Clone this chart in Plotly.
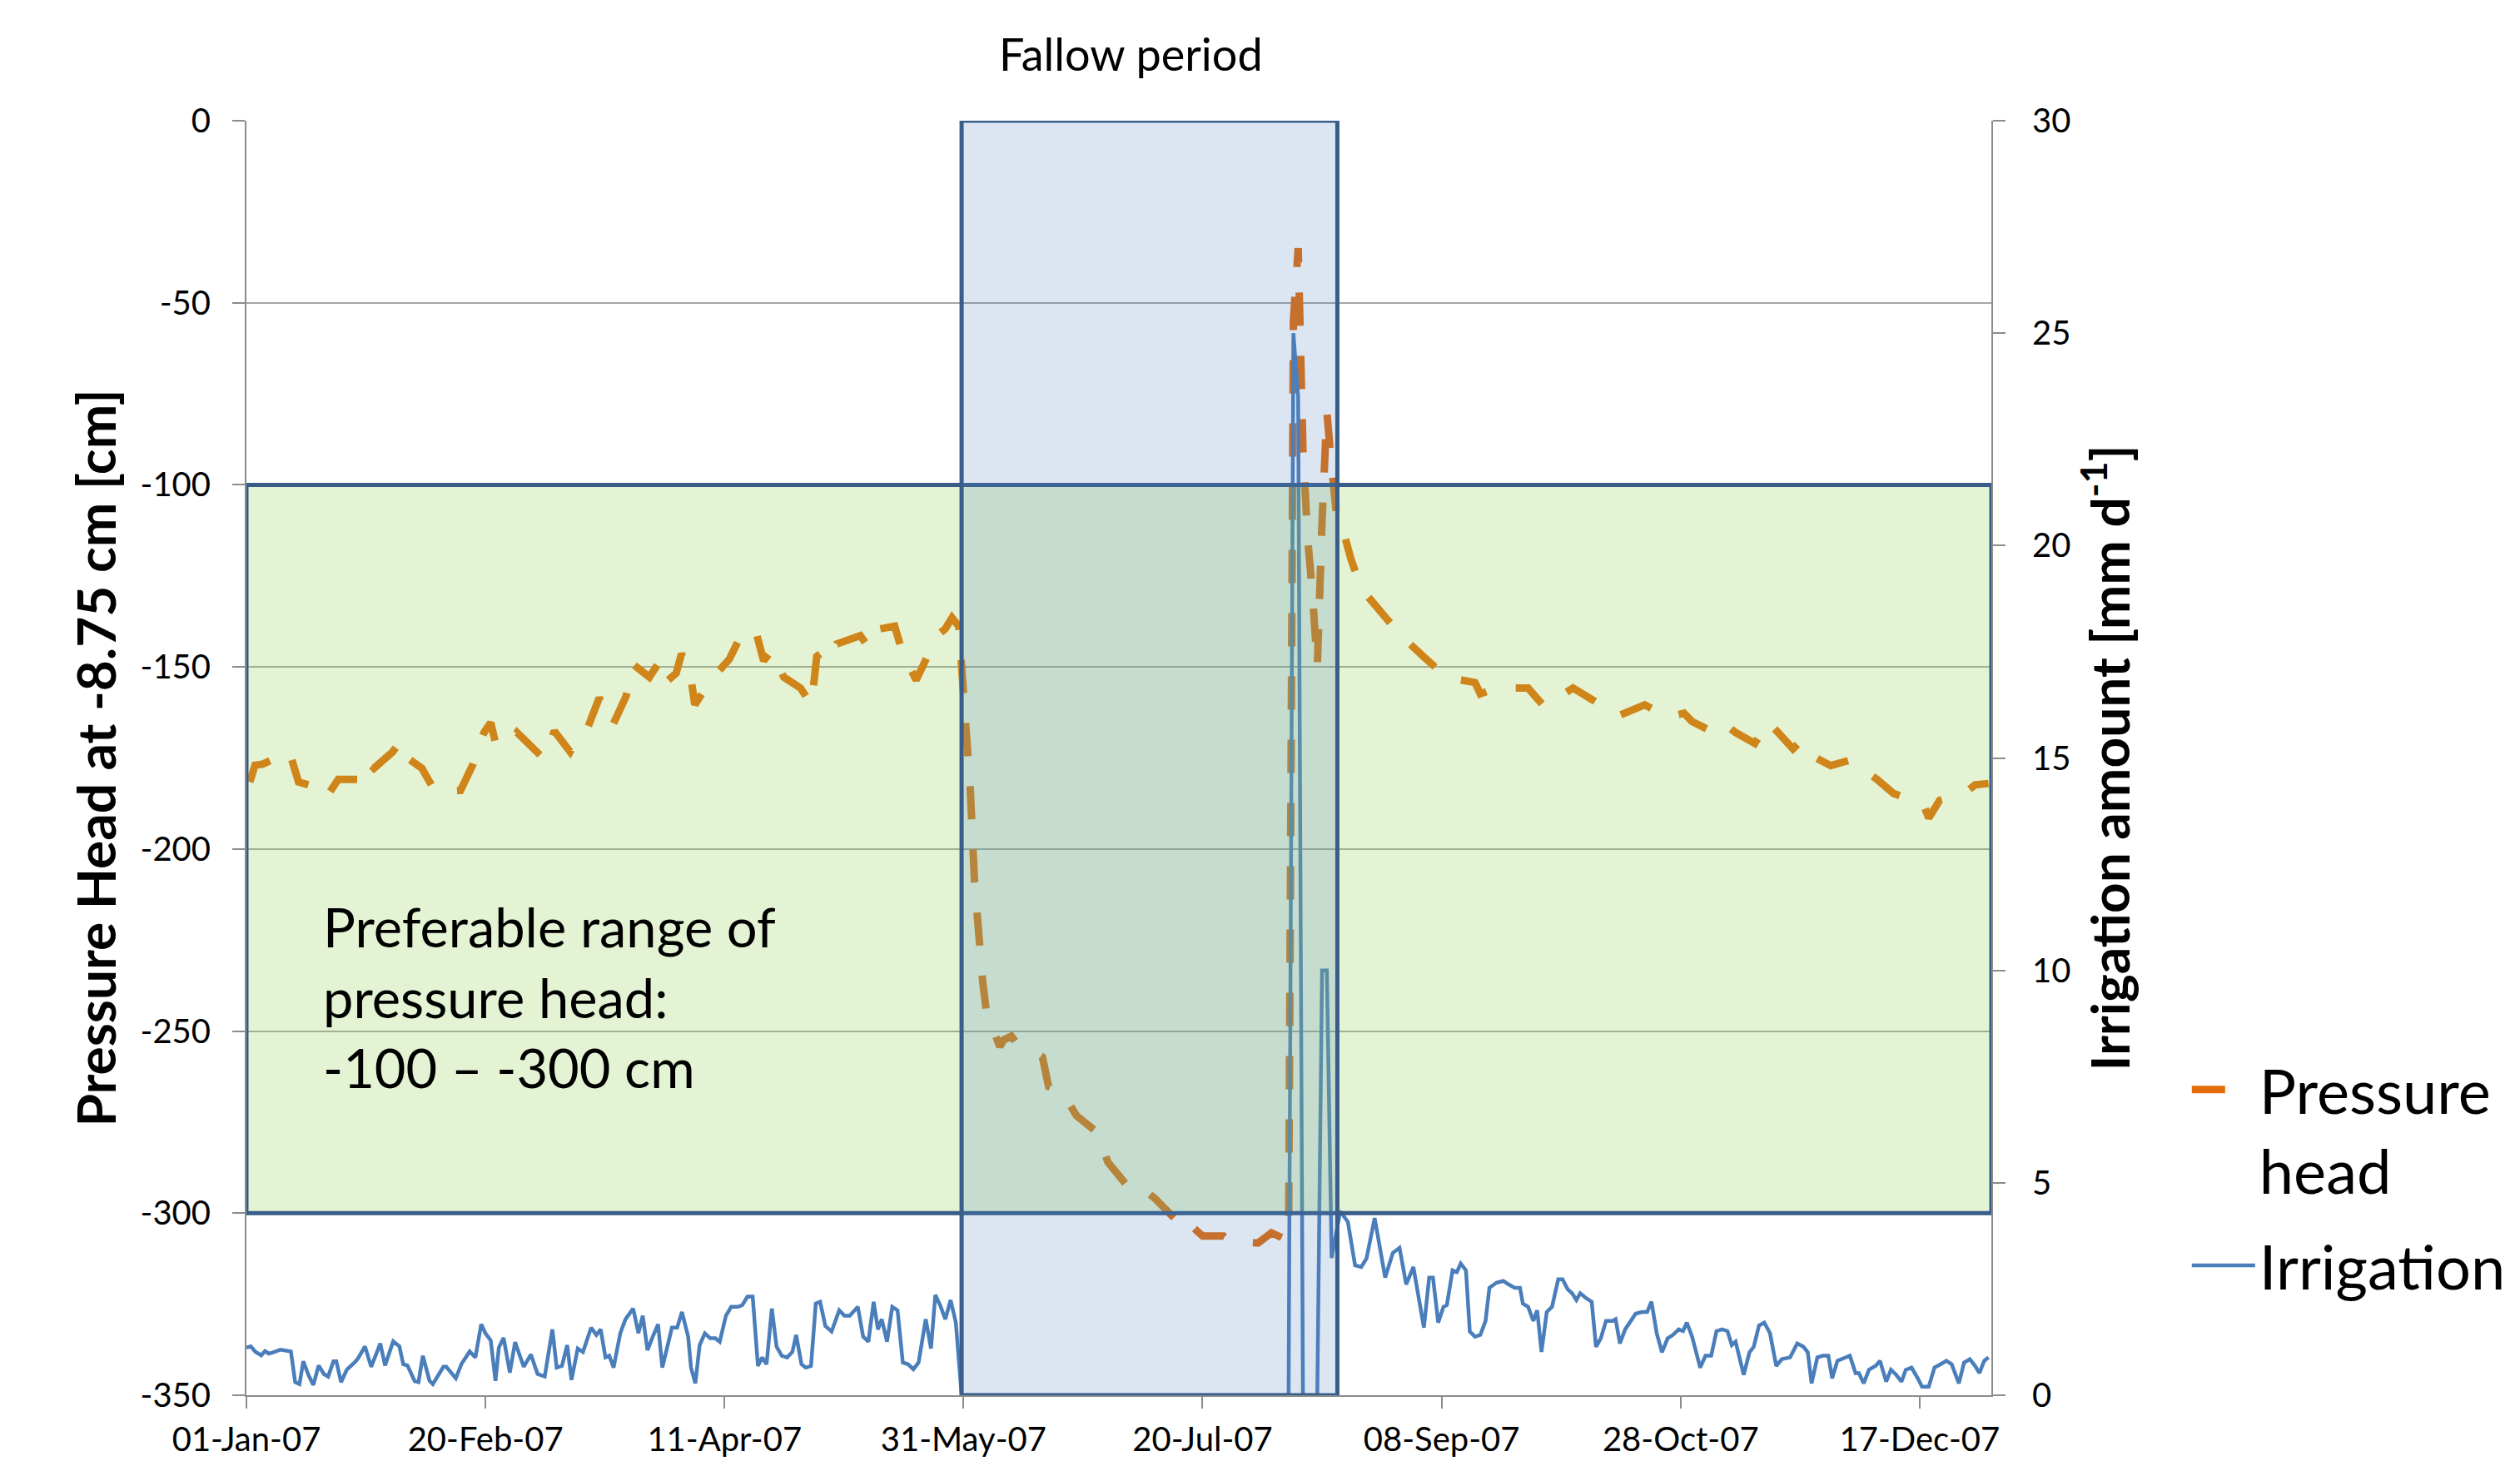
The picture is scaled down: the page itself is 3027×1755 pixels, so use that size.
import pandas as pd
import plotly.graph_objects as go

START = pd.Timestamp("2007-01-01")

# ---- data (day offset from 01-Jan-07) ----
ph_day = [0.7, 1.8, 3.4, 9.0, 10.9, 15.1, 16.7, 19.2, 23.4, 25.0, 26.7, 30.6, 32.3, 33.9, 36.7, 39.5,
          44.8, 47.4, 49.7, 51.1, 52.2, 55.0, 56.6, 58.3, 62.2, 64.4, 67.7, 68.8, 71.0, 73.8, 76.6, 79.4,
          81.0, 84.3, 86.0, 87.0, 89.9, 91.0, 92.7, 93.8, 97.1, 101.0, 103.7, 106.5, 108.2, 109.8, 112.4,
          115.9, 118.2, 119.3, 120.9, 122.4, 123.5, 128.4, 130.1, 131.2, 135.6, 137.3, 140.1, 142.3, 145.1,
          146.2, 147.6, 149.0, 149.6, 150.6, 151.4, 152.3, 153.2, 154.0, 154.8, 157.6, 158.4, 160.0, 160.8,
          166.5, 167.8, 170.6, 173.6, 178.0, 180.2, 184.4, 185.5, 188.6, 190.0, 195.0, 196.1, 197.7, 200.0,
          204.4, 205.7, 211.6, 214.4, 217.1, 218.0, 219.0, 220.0, 221.0, 222.0, 223.0, 224.0, 225.0, 226.0,
          227.0, 228.0, 229.3, 231.0, 233.2, 237.6, 241.5, 246.5, 251.0, 257.0, 258.1, 261.5, 268.1, 271.4,
          277.5, 281.4, 287.0, 292.5, 297.3, 300.7, 302.4, 307.0, 309.2, 311.5, 315.5, 318.3, 323.5, 325.2,
          326.9, 331.4, 335.4, 341.1, 344.5, 350.8, 351.9, 354.2, 359.3, 361.6, 364.4]
ph_val = [-181.6, -177.0, -176.7, -173.3, -181.6, -183.2, -185.8, -180.9, -180.9, -175.6, -177.8, -173.3,
          -170.3, -175.2, -177.8, -184.3, -183.9, -176.7, -168.0, -165.3, -171.4, -171.0, -168.0, -170.3,
          -175.2, -167.6, -173.3, -170.6, -168.0, -158.5, -166.1, -158.1, -149.4, -152.8, -149.4, -155.1,
          -151.7, -146.4, -150.5, -160.4, -153.6, -147.9, -140.7, -140.0, -148.3, -145.6, -152.8, -155.8,
          -160.4, -147.1, -145.6, -147.5, -143.7, -141.4, -144.5, -139.9, -138.8, -146.4, -153.6, -147.5,
          -140.7, -139.5, -136.5, -138.8, -150.0, -165.7, -183.2, -209.0, -227.7, -236.3, -244.8, -254.3,
          -252.4, -251.4, -252.8, -257.1, -265.2, -266.6, -273.2, -277.9, -286.0, -293.1, -294.5, -294.5,
          -295.9, -302.6, -304.9, -303.5, -306.3, -306.3, -307.8, -308.2, -305.4, -307.0, -307.0, -55.0,
          -35.0, -90.0, -115.0, -130.0, -150.0, -110.0, -80.0, -95.0, -108.0, -112.0, -120.2, -128.5,
          -135.4, -141.4, -147.5, -152.8, -154.3, -157.4, -155.8, -155.8, -160.8, -155.8, -158.9, -163.4,
          -160.4, -163.8, -162.7, -165.0, -168.0, -165.7, -168.0, -171.0, -165.0, -172.5, -170.3, -174.0,
          -177.1, -175.6, -180.9, -184.7, -187.7, -191.5, -186.6, -184.7, -182.4, -182.0]

irr_day = [0.0, 0.9, 1.9, 3.1, 3.9, 4.7, 5.4, 7.1, 8.9, 9.3, 10.2, 11.1, 11.9, 13.0, 14.0, 15.1, 16.2, 17.1,
           18.2, 18.8, 19.8, 21.0, 22.7, 23.3, 24.8, 26.1, 28.0, 29.0, 30.7, 32.0, 32.8, 33.7, 35.2, 36.0,
           36.9, 38.3, 39.0, 41.2, 41.8, 43.8, 45.0, 46.7, 47.9, 49.1, 50.0, 51.1, 52.1, 52.8, 53.8, 55.1,
           56.2, 58.0, 59.5, 60.9, 62.4, 64.0, 64.9, 66.0, 67.1, 68.0, 69.3, 70.4, 72.1, 73.2, 74.1, 75.1,
           75.9, 76.8, 78.2, 79.3, 80.9, 82.0, 82.9, 83.9, 85.0, 86.1, 87.0, 89.0, 90.1, 91.1, 92.4, 93.0,
           93.9, 94.8, 95.9, 97.0, 98.1, 99.0, 100.3, 101.4, 102.8, 103.7, 104.8, 105.9, 107.0, 107.9, 108.8,
           109.9, 110.9, 112.0, 113.1, 114.2, 115.0, 116.1, 117.0, 118.1, 119.1, 120.0, 121.1, 122.4, 124.0,
           125.1, 126.2, 127.9, 129.0, 130.1, 131.2, 132.1, 132.9, 134.0, 135.1, 136.2, 137.3, 138.4, 139.5,
           140.6, 142.1, 143.2, 144.1, 145.1, 146.2, 147.3, 148.4, 149.6, 218.0, 219.0, 220.0, 221.0, 224.0,
           225.0, 226.0, 227.0, 228.8, 230.4, 231.9, 233.2, 234.3, 236.0, 238.2, 239.8, 241.2, 242.6, 244.1,
           246.3, 247.4, 248.2, 249.3, 250.4, 251.1, 252.3, 253.2, 254.0, 255.1, 255.9, 257.0, 258.1, 259.2,
           260.0, 261.5, 262.9, 264.0, 265.3, 266.4, 267.0, 268.1, 269.2, 270.0, 270.9, 272.0, 273.1, 274.4,
           275.3, 276.4, 277.3, 278.2, 279.0, 280.3, 281.4, 282.3, 283.3, 284.4, 285.8, 286.4, 287.3, 288.4,
           289.5, 290.6, 291.9, 293.0, 293.9, 295.0, 296.1, 297.3, 298.4, 299.6, 300.5, 301.3, 302.4, 304.1,
           305.2, 306.4, 307.5, 308.7, 309.8, 310.7, 311.5, 313.2, 314.4, 315.3, 316.4, 317.5, 318.7, 320.0,
           321.2, 322.9, 324.4, 325.7, 326.6, 327.4, 328.6, 329.7, 330.9, 331.7, 332.8, 334.3, 335.4, 336.6,
           337.3, 338.3, 339.4, 340.8, 341.7, 343.0, 344.0, 345.1, 346.2, 347.1, 348.3, 349.6, 350.5, 351.9,
           353.1, 354.4, 355.6, 356.7, 358.2, 359.3, 360.5, 361.6, 362.5, 363.5, 364.4]
irr_val = [1.12, 1.15, 1.02, 0.94, 1.04, 0.98, 1.00, 1.07, 1.04, 1.03, 0.31, 0.26, 0.80, 0.47, 0.24, 0.70,
           0.50, 0.44, 0.80, 0.80, 0.31, 0.60, 0.78, 0.86, 1.15, 0.67, 1.22, 0.70, 1.27, 1.15, 0.73, 0.70,
           0.33, 0.31, 0.93, 0.34, 0.26, 0.67, 0.67, 0.40, 0.74, 1.03, 0.89, 1.67, 1.46, 1.29, 0.34, 1.12,
           1.35, 0.53, 1.25, 0.67, 0.96, 0.50, 0.44, 1.55, 0.65, 0.69, 1.18, 0.36, 1.10, 1.02, 1.59, 1.42,
           1.55, 0.89, 0.93, 0.65, 1.46, 1.79, 2.04, 1.46, 1.87, 1.06, 1.38, 1.67, 0.65, 1.59, 1.59, 1.96,
           1.38, 0.65, 0.28, 1.18, 1.46, 1.34, 1.34, 1.26, 1.87, 2.08, 2.08, 2.12, 2.32, 2.32, 0.69, 0.89,
           0.73, 2.04, 1.14, 0.93, 0.89, 1.02, 1.42, 0.73, 0.65, 0.69, 2.16, 2.20, 1.63, 1.50, 2.00, 1.87,
           1.87, 2.08, 1.38, 1.26, 2.20, 1.55, 1.79, 1.26, 2.08, 2.00, 0.77, 0.73, 0.61, 0.77, 1.79, 1.10,
           2.36, 2.12, 1.79, 2.24, 1.71, 0.00, 0.00, 25.0, 23.5, 0.00, 0.00, 10.0, 10.0, 3.23, 4.33, 4.08,
           3.06, 3.02, 3.22, 4.17, 2.77, 3.35, 3.47, 2.61, 3.02, 1.59, 2.77, 2.77, 1.71, 2.08, 2.12, 2.94,
           2.90, 3.10, 2.94, 1.50, 1.38, 1.42, 1.75, 2.53, 2.65, 2.69, 2.61, 2.53, 2.53, 2.16, 2.08, 1.75,
           2.00, 1.02, 1.96, 2.08, 2.73, 2.73, 2.49, 2.40, 2.24, 2.40, 2.28, 2.20, 1.14, 1.34, 1.75, 1.75,
           1.79, 1.22, 1.55, 1.75, 1.92, 1.96, 1.96, 2.20, 1.46, 1.01, 1.34, 1.42, 1.55, 1.51, 1.71, 1.38,
           0.65, 0.93, 0.93, 1.51, 1.55, 1.51, 1.18, 1.26, 0.48, 1.01, 1.14, 1.64, 1.71, 1.46, 0.69, 0.85,
           0.89, 1.22, 1.14, 1.01, 0.28, 0.89, 0.93, 0.93, 0.40, 0.81, 0.89, 0.93, 0.52, 0.52, 0.28, 0.60,
           0.69, 0.81, 0.32, 0.60, 0.48, 0.32, 0.60, 0.65, 0.40, 0.20, 0.20, 0.65, 0.73, 0.81, 0.73, 0.28,
           0.77, 0.85, 0.69, 0.52, 0.81, 0.89]

tick_days = [0, 50, 100, 150, 200, 250, 300, 350]
left_ticks = [0, -50, -100, -150, -200, -250, -300, -350]
left_ticktext = ["0", "-50", "-100", "-150", "-200", "-250", "-300", "-350"]
axis_end_day = 365
fallow_days = [149.6, 228.2]
pref_range = [-300, -100]
left_range = [-350, 0]
right_range = [0, 30]

FONT = "Lato, 'Open Sans', sans-serif"
ORANGE = "#E46C0A"
BLUE = "#4A7EBB"
BOX_LINE = "#385D8A"
AXIS_GRAY = "#8C8C8C"


def to_date(days):
    return [START + pd.Timedelta(days=float(d)) for d in days]


fig = go.Figure()
fig.add_trace(go.Scatter(
    x=to_date(ph_day), y=ph_val, name="Pressure<br>head", mode="lines", legendgroup="ph",
    line=dict(color=ORANGE, width=9, dash="40px,36px"), yaxis="y"))
fig.add_trace(go.Scatter(
    x=to_date(irr_day), y=irr_val, name="Irrigation", mode="lines", legendgroup="irr",
    line=dict(color=BLUE, width=4.5), yaxis="y2"))

x0, x1 = to_date([0, axis_end_day])
fx0, fx1 = to_date(fallow_days)
fig.add_shape(type="rect", xref="x", yref="y", x0=x0, x1=x1, y0=pref_range[0], y1=pref_range[1],
              fillcolor="rgba(146,208,80,0.25)", line=dict(color=BOX_LINE, width=5), layer="above")
fig.add_shape(type="rect", xref="x", yref="y", x0=fx0, x1=fx1, y0=left_range[0], y1=left_range[1],
              fillcolor="rgba(79,129,189,0.2)", line=dict(color=BOX_LINE, width=5), layer="above")

fig.add_annotation(text="Fallow period", xref="paper", yref="paper", x=0.507, y=1.030,
                   xanchor="center", yanchor="bottom", showarrow=False,
                   font=dict(family=FONT, size=54, color="black"))
fig.add_annotation(text="Preferable range of<br>pressure head:<br>-100 \u2013 -300 cm",
                   xref="paper", yref="y", x=0.0428, y=-212, xanchor="left", yanchor="top",
                   align="left", showarrow=False, font=dict(family=FONT, size=65, color="black"))

tick_font = dict(family=FONT, size=40, color="black")
title_font = dict(family=FONT, size=64, color="black", weight="bold")

fig.update_layout(
    width=3027, height=1755,
    margin=dict(l=296, r=630, t=145, b=79),
    paper_bgcolor="white", plot_bgcolor="white",
    font=dict(family=FONT, color="black"),
    showlegend=True,
    legend=dict(x=1.1125, y=0.2756, xanchor="left", yanchor="top", valign="top",
                traceorder="grouped", tracegroupgap=16,
                font=dict(family=FONT, size=74, color="black"), itemwidth=76,
                bgcolor="rgba(0,0,0,0)"),
    xaxis=dict(type="date", range=[x0, x1], tickvals=to_date(tick_days), tickformat="%d-%b-%y",
               showgrid=False, showline=True, linecolor=AXIS_GRAY, linewidth=2, ticks="outside",
               ticklen=14, tickwidth=2, tickcolor=AXIS_GRAY, tickfont=tick_font,
               ticklabelstandoff=3, zeroline=False, automargin=False),
    yaxis=dict(range=left_range, tickvals=left_ticks, ticktext=left_ticktext, showgrid=True,
               gridcolor="#A6A6A6", gridwidth=2,
               showline=True, linecolor=AXIS_GRAY, linewidth=2, ticks="outside", ticklen=15, tickwidth=2,
               tickcolor=AXIS_GRAY, tickfont=tick_font, ticklabelstandoff=18, zeroline=False,
               automargin=False,
               title=dict(text="Pressure Head at -8.75 cm [cm]", font=title_font, standoff=8)),
    yaxis2=dict(range=right_range, dtick=5, tick0=0, overlaying="y", side="right", showgrid=False,
                showline=True, linecolor=AXIS_GRAY, linewidth=2, ticks="outside", ticklen=15,
                tickwidth=2, tickcolor=AXIS_GRAY, tickfont=tick_font, ticklabelstandoff=24,
                zeroline=False, automargin=False,
                title=dict(text="Irrigation amount [mm d<sup>-1</sup>]", font=title_font, standoff=18)),
)

fig.write_html("out.html", config={"displayModeBar": False},
               post_script="document.body.style.margin='0px';")
